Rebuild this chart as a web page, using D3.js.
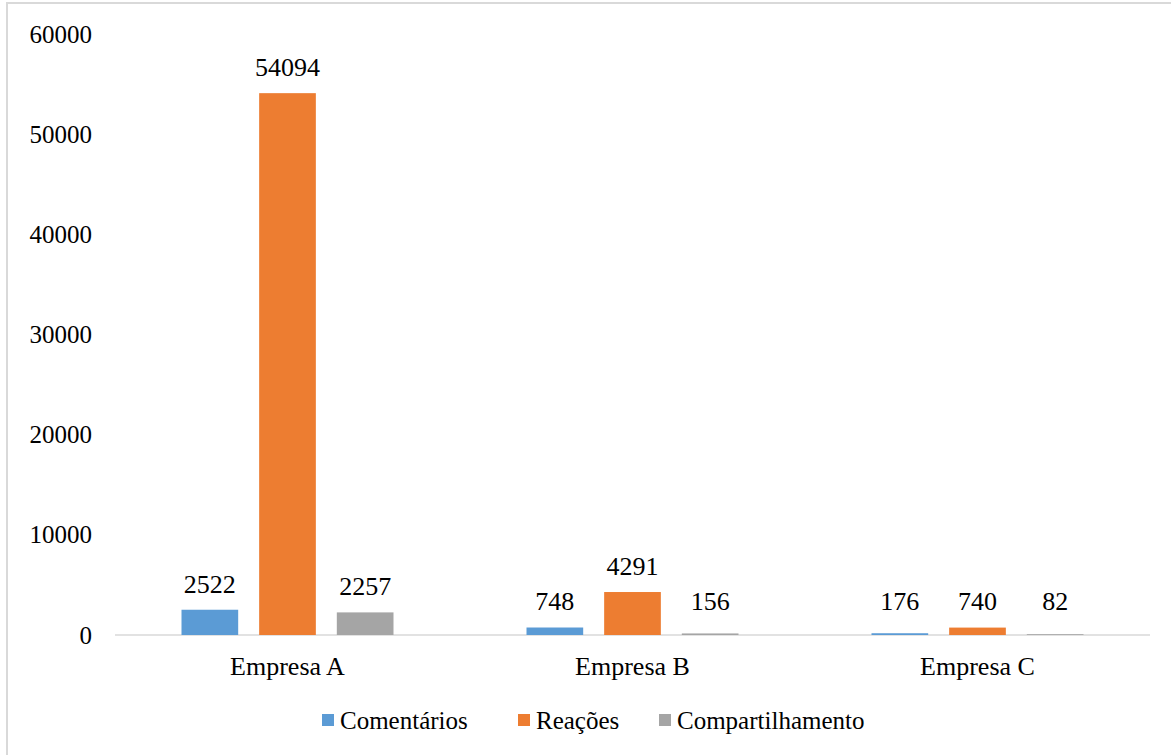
<!DOCTYPE html>
<html><head><meta charset="utf-8">
<script src="https://cdn.jsdelivr.net/npm/d3@7"></script>
<style>
html,body{margin:0;padding:0;background:#fff;font-family:serif;}
svg{display:block;}
</style></head>
<body>
<script>
const categories = ["Empresa A", "Empresa B", "Empresa C"];
const seriesNames = ["Comentários", "Reações", "Compartilhamento"];
const comentarios = [2522, 748, 176];
const reacoes = [54094, 4291, 740];
const compartilhamento = [2257, 156, 82];
const yTicks = [0, 10000, 20000, 30000, 40000, 50000, 60000];
const colors = ["#5B9BD5", "#ED7D31", "#A5A5A5"];

const FONT = "serif";
const seriesValues = [comentarios, reacoes, compartilhamento];
const W = 1171, H = 755;
const svg = d3.select("body").append("svg").attr("width", W).attr("height", H);

svg.append("rect").attr("x", 7).attr("y", 3).attr("width", W).attr("height", H)
  .attr("fill", "none").attr("stroke", "#d9d9d9").attr("stroke-width", 2);

const pLeft = 115, pRight = 1150, pTop = 34, pBottom = 635;
const x0 = d3.scaleBand().domain(categories).range([pLeft, pRight]).paddingInner(0).paddingOuter(0);
const x1 = d3.scaleBand().domain(seriesNames).range([-106, 106]).paddingInner(0.27).paddingOuter(0);
const y = d3.scaleLinear().domain([0, 60000]).range([pBottom, pTop]);

const yAxis = d3.axisLeft(y).tickValues(yTicks).tickSize(0).tickPadding(pLeft - 92).tickFormat(d3.format("d"));
const gy = svg.append("g").attr("transform", `translate(${pLeft},0)`).call(yAxis);
gy.attr("font-family", FONT).attr("font-size", 25);
gy.select(".domain").remove();
gy.selectAll("text").attr("font-family", FONT).attr("font-size", 25).attr("fill", "#000");

svg.append("line").attr("x1", pLeft).attr("x2", pRight).attr("y1", pBottom).attr("y2", pBottom)
  .attr("stroke", "#d9d9d9").attr("stroke-width", 1.5);

const xAxis = d3.axisBottom(x0).tickSize(0).tickPadding(22);
const gx = svg.append("g").attr("transform", `translate(0,${pBottom})`).call(xAxis);
gx.attr("font-family", FONT).attr("font-size", 26);
gx.select(".domain").remove();
gx.selectAll("text").attr("font-family", FONT).attr("font-size", 26).attr("fill", "#000");

const data = [];
categories.forEach((c, i) => seriesNames.forEach((s, j) => data.push({c, s, j, v: seriesValues[j][i]})));
const groups = svg.append("g");
groups.selectAll("rect.bar").data(data).join("rect").attr("class", "bar")
  .attr("x", d => x0(d.c) + x0.bandwidth() / 2 + x1(d.s))
  .attr("width", x1.bandwidth())
  .attr("y", d => y(d.v))
  .attr("height", d => pBottom - y(d.v))
  .attr("fill", d => colors[d.j]);

groups.selectAll("text.lbl").data(data).join("text").attr("class", "lbl")
  .attr("x", d => x0(d.c) + x0.bandwidth() / 2 + x1(d.s) + x1.bandwidth() / 2)
  .attr("y", d => Math.min(y(d.v), pBottom - 8) - 17)
  .attr("text-anchor", "middle")
  .attr("font-family", FONT).attr("font-size", 26).attr("fill", "#000")
  .text(d => d.v);

const legendItems = [
  {name: seriesNames[0], sx: 322, tx: 340},
  {name: seriesNames[1], sx: 518, tx: 536},
  {name: seriesNames[2], sx: 659, tx: 677}
];
const lg = svg.append("g");
legendItems.forEach((it, i) => {
  lg.append("rect").attr("x", it.sx).attr("y", 714).attr("width", 12).attr("height", 12).attr("fill", colors[i]);
  lg.append("text").attr("x", it.tx).attr("y", 729).attr("font-family", FONT).attr("font-size", 25)
    .attr("fill", "#000").text(it.name);
});
</script>
</body></html>
